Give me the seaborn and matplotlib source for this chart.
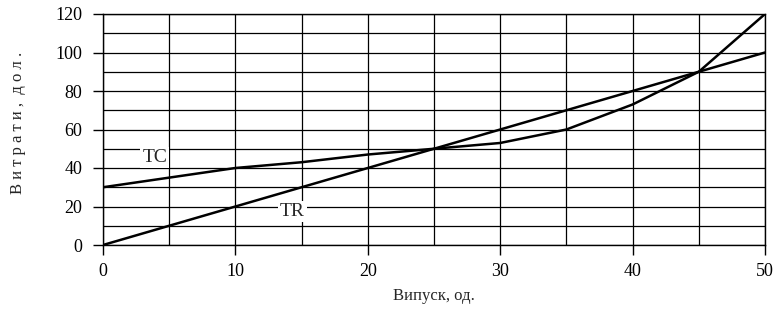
import numpy as np
import pandas as pd
import seaborn as sns
import matplotlib.pyplot as plt

## Data
output = [0, 5, 10, 15, 20, 25, 30, 35, 40, 45, 50]
tc = [30, 35, 40, 43, 47, 50, 53, 60, 73, 90, 120]
tr = [0, 10, 20, 30, 40, 50, 60, 70, 80, 90, 100]

df = pd.DataFrame({"q": output * 2,
                   "value": tc + tr,
                   "curve": ["TC"] * len(output) + ["TR"] * len(output)})

sns.set_style("ticks")
plt.rcParams['font.family'] = ['Liberation Serif', 'DejaVu Serif']

fig = plt.figure(figsize=(7.75, 3.09), dpi=100)
ax = fig.add_axes([103 / 775, 1 - 245 / 309, 662 / 775, 231 / 309])

sns.lineplot(data=df, x="q", y="value", units="curve", estimator=None,
             color="black", lw=1.8, ax=ax, zorder=3)

ax.set_xlim(0, 50)
ax.set_ylim(0, 120)
ax.set_xticks(range(0, 51, 10))
ax.set_xticks(range(0, 51, 5), minor=True)
ax.set_yticks(range(0, 121, 20))
ax.set_yticks(range(0, 121, 10), minor=True)
ax.grid(which="both", color="black", lw=0.9)
ax.tick_params(which="major", length=7, width=1, direction="out", labelsize=13, colors="black")
ax.tick_params(axis="x", which="major", pad=6)
ax.tick_params(axis="y", which="major", pad=8)
ax.tick_params(which="minor", length=0)
for s in ax.spines.values():
    s.set_color("black")
    s.set_linewidth(1)

ax.set_xlabel("Випуск, од.", fontsize=12, labelpad=6)
ax.set_ylabel("")
fig.text(18 / 775, 1 - 194 / 309, "В и т р а т и ,  д о л .", rotation=90,
         fontsize=12, ha="center", va="bottom")

bbox = dict(facecolor="white", edgecolor="none", pad=1.5)
ax.text(3.9, 45.5, "TC", fontsize=14, ha="center", va="center", bbox=bbox, zorder=4)
ax.text(14.3, 17.5, "TR", fontsize=14, ha="center", va="center", bbox=bbox, zorder=4)

fig.savefig("out.png", dpi=100)
